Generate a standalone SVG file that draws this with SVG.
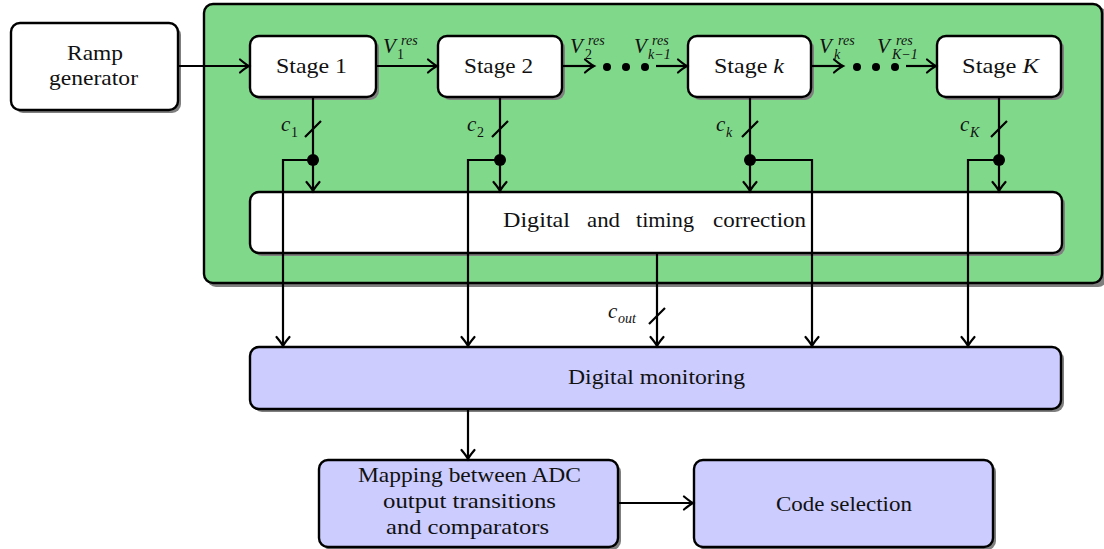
<svg xmlns="http://www.w3.org/2000/svg" width="1104" height="549" viewBox="0 0 1104 549">
<style>
.box{stroke:#000;stroke-width:2.4}
.w{fill:#fff}
.g{fill:#80d98a}
.b{fill:#ccccff}
.sh{fill:#7f7f7f}
text{font-family:"Liberation Serif","Times New Roman","DejaVu Serif",serif;fill:#111}
.t{font-size:21px}
.m{font-style:italic;font-size:21px}
.s{font-size:14px}
.si{font-style:italic;font-size:14px}
.ln{fill:none;stroke:#000;stroke-width:2.2}
.arr{marker-end:url(#ah)}
</style>
<defs>
<marker id="ah" markerUnits="userSpaceOnUse" markerWidth="20" markerHeight="20" refX="0" refY="0" viewBox="-12 -10 14 20" orient="auto">
<path d="M-9,-6.5 Q-3,-1.5 0,0 Q-3,1.5 -9,6.5" fill="none" stroke="#000" stroke-width="2.2" stroke-linecap="round"/>
</marker>
</defs>
<rect width="1104" height="549" fill="#fff"/>

<g id="processor">
<rect class="sh" x="207" y="7" width="900" height="280" rx="9"/>
<rect class="box g" x="204" y="4" width="898" height="279" rx="9"/>
</g>

<g id="ramp">
<rect class="sh" x="14" y="26" width="167" height="87" rx="9"/>
<rect class="box w" x="11" y="23" width="167" height="87" rx="9"/>
<text class="t" x="67" y="60" textLength="56" lengthAdjust="spacingAndGlyphs">Ramp</text>
<text class="t" x="49" y="85" textLength="89" lengthAdjust="spacingAndGlyphs">generator</text>
</g>

<g id="stage1">
<rect class="sh" x="253" y="39" width="126" height="61" rx="9"/>
<rect class="box w" x="250" y="36" width="126" height="61" rx="9"/>
<text class="t" x="276" y="73" textLength="71" lengthAdjust="spacingAndGlyphs">Stage 1</text>
</g>
<g id="stage2">
<rect class="sh" x="441" y="39" width="124" height="61" rx="9"/>
<rect class="box w" x="438" y="36" width="124" height="61" rx="9"/>
<text class="t" x="464" y="73" textLength="69" lengthAdjust="spacingAndGlyphs">Stage 2</text>
</g>
<g id="stagek">
<rect class="sh" x="691" y="39" width="123" height="61" rx="9"/>
<rect class="box w" x="688" y="36" width="123" height="61" rx="9"/>
<text class="t" x="714" y="73" textLength="70" lengthAdjust="spacingAndGlyphs">Stage <tspan font-style="italic">k</tspan></text>
</g>
<g id="stageK">
<rect class="sh" x="940" y="39" width="124" height="61" rx="9"/>
<rect class="box w" x="937" y="36" width="124" height="61" rx="9"/>
<text class="t" x="962" y="73" textLength="77" lengthAdjust="spacingAndGlyphs">Stage <tspan font-style="italic">K</tspan></text>
</g>

<g id="correction">
<rect class="sh" x="253" y="195" width="812" height="61" rx="9"/>
<rect class="box w" x="250" y="192" width="812" height="61" rx="9"/>
<text class="t" x="503" y="227" textLength="67" lengthAdjust="spacingAndGlyphs">Digital</text>
<text class="t" x="587" y="227" textLength="33" lengthAdjust="spacingAndGlyphs">and</text>
<text class="t" x="636" y="227" textLength="58" lengthAdjust="spacingAndGlyphs">timing</text>
<text class="t" x="713" y="227" textLength="93" lengthAdjust="spacingAndGlyphs">correction</text>
</g>

<g id="monitoring">
<rect class="sh" x="253" y="350" width="811" height="62" rx="9"/>
<rect class="box b" x="250" y="347" width="811" height="62" rx="9"/>
<text class="t" x="568" y="384" textLength="177" lengthAdjust="spacingAndGlyphs">Digital monitoring</text>
</g>

<g id="mapping">
<rect class="sh" x="322" y="463" width="299" height="87" rx="9"/>
<rect class="box b" x="319" y="460" width="299" height="87" rx="9"/>
<text class="t" x="358" y="482" textLength="223" lengthAdjust="spacingAndGlyphs">Mapping between ADC</text>
<text class="t" x="383" y="508" textLength="173" lengthAdjust="spacingAndGlyphs">output transitions</text>
<text class="t" x="386" y="534" textLength="163" lengthAdjust="spacingAndGlyphs">and comparators</text>
</g>

<g id="codesel">
<rect class="sh" x="697" y="463" width="299" height="87" rx="9"/>
<rect class="box b" x="694" y="460" width="299" height="87" rx="9"/>
<text class="t" x="776" y="511" textLength="136" lengthAdjust="spacingAndGlyphs">Code selection</text>
</g>

<g id="connectors">
<path class="ln arr" d="M178,66 H249"/>
<path class="ln arr" d="M376,66 H437"/>
<path class="ln arr" d="M562,66 H594"/>
<path class="ln arr" d="M656,66 H687"/>
<path class="ln arr" d="M811,66 H843"/>
<path class="ln arr" d="M906,66 H936"/>
<g fill="#000">
<circle cx="607" cy="67" r="4"/><circle cx="626" cy="67" r="4"/><circle cx="645" cy="67" r="4"/>
<circle cx="857" cy="67" r="4"/><circle cx="876" cy="67" r="4"/><circle cx="895" cy="67" r="4"/>
</g>
<path class="ln arr" d="M313,97 V191"/>
<path class="ln arr" d="M500,97 V191"/>
<path class="ln arr" d="M750,97 V191"/>
<path class="ln arr" d="M999,97 V191"/>
<path class="ln" d="M305,137 L321,121 M492,137 L508,121 M742,137 L758,121 M991,137 L1007,121 M649,324 L665,308"/>
<path class="ln arr" d="M313,160 H283 V346"/>
<path class="ln arr" d="M500,160 H468 V346"/>
<path class="ln arr" d="M750,160 H812 V346"/>
<path class="ln arr" d="M999,160 H968 V346"/>
<g fill="#000">
<circle cx="313" cy="160" r="6"/><circle cx="500" cy="160" r="6"/><circle cx="750" cy="160" r="6"/><circle cx="999" cy="160" r="6"/>
</g>
<path class="ln arr" d="M657,253 V346"/>
<path class="ln arr" d="M468,409 V459"/>
<path class="ln arr" d="M618,503 H693"/>
</g>

<g id="labels">
<text class="m" x="383" y="53">V</text><text class="si" x="401" y="45">res</text><text class="s" x="397" y="59">1</text>
<text class="m" x="570" y="53">V</text><text class="si" x="588" y="45">res</text><text class="s" x="585" y="59">2</text>
<text class="m" x="634" y="53">V</text><text class="si" x="652" y="45">res</text><text class="si" x="648" y="59">k−1</text>
<text class="m" x="819" y="53">V</text><text class="si" x="838" y="45">res</text><text class="si" x="834" y="59">k</text>
<text class="m" x="877" y="53">V</text><text class="si" x="896" y="45">res</text><text class="si" x="892" y="59">K−1</text>
<text class="m" x="281" y="131">c</text><text class="s" x="291" y="137">1</text>
<text class="m" x="467" y="131">c</text><text class="s" x="477" y="137">2</text>
<text class="m" x="716" y="131">c</text><text class="si" x="726" y="137">k</text>
<text class="m" x="960" y="131">c</text><text class="si" x="970" y="137">K</text>
<text class="m" x="608" y="318">c</text><text class="si" x="618" y="323">out</text>
</g>
</svg>
